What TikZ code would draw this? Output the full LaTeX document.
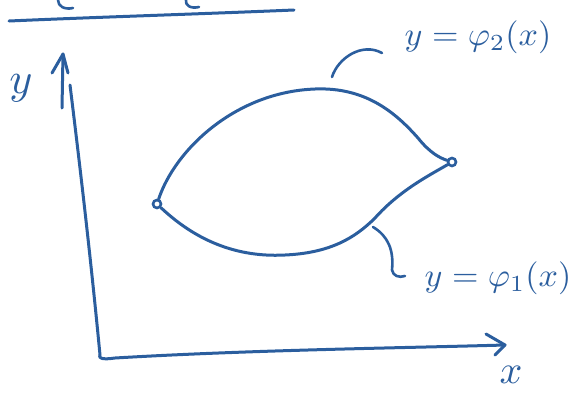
\documentclass[tikz,border=0pt]{standalone}
\usetikzlibrary{calc}
\definecolor{ink}{HTML}{2B5E9E}
\begin{document}
\begin{tikzpicture}[x=1pt,y=-1pt,
  pen/.style={draw=ink,line width=3pt,line cap=round,line join=round},
  thin pen/.style={draw=ink,line width=2.6pt,line cap=round,line join=round},
  lbl/.style={text=ink,font=\normalsize,inner sep=0pt,xscale=3.4,yscale=3.3},
  big lbl/.style={text=ink,font=\normalsize,inner sep=0pt,scale=4.4},
  pt/.style={circle,draw=ink,line width=2.6pt,fill=white,minimum size=8pt,inner sep=0pt}]
\useasboundingbox (0,0) rectangle (579,394);
% top fragments
\draw[pen] (9,21) .. controls (100,17) and (200,14) .. (294,10);
\draw[thin pen] (58,0) .. controls (58,6) and (64,10) .. (73,8);
\draw[thin pen] (186,0) .. controls (185,5) and (190,9) .. (199,7);
% axes
\coordinate (O) at (100,355);
\coordinate (Ytip) at (63,54);
\coordinate (Xtip) at (505,345);
\draw[pen] (O) .. controls (90,250) and (78,150) .. (70,85);
\draw[pen] (62,108) -- (Ytip);
\draw[pen] (52,73) -- (Ytip) -- (68,73);
\draw[pen] (O) .. controls (98,358) and (102,360) .. (115,358) .. controls (250,350) and (400,348) .. (Xtip);
\draw[pen] (486,334) -- (Xtip) -- (495,355);
\node[big lbl] (ylab) at (21,88) {$y$};
\node[text=ink,font=\normalsize,inner sep=0pt,scale=4] (xlab) at (511,375) {$x$};
% region
\node[pt] (L) at (157,204) {};
\node[pt] (R) at (452,162) {};
\draw[pen] (L) .. controls (175,150) and (235,92) .. (315,89)
  .. controls (365,87) and (395,112) .. (418,138)
  .. controls (430,153) and (440,158) .. (R);
\draw[pen] (L) .. controls (190,235) and (230,258) .. (285,255)
  .. controls (330,253) and (355,238) .. (375,218)
  .. controls (400,190) and (430,175) .. (R);
% labels
\draw[thin pen] (332,77) .. controls (338,58) and (362,42) .. (382,53);
\node[lbl] (phi2) at (478,37) {$y=\varphi_2(x)$};
\draw[thin pen] (373,227) .. controls (388,236) and (394,250) .. (392,270) .. controls (393,276) and (399,278) .. (405,276);
\node[lbl] (phi1) at (498,278) {$y=\varphi_1(x)$};
\end{tikzpicture}
\end{document}
